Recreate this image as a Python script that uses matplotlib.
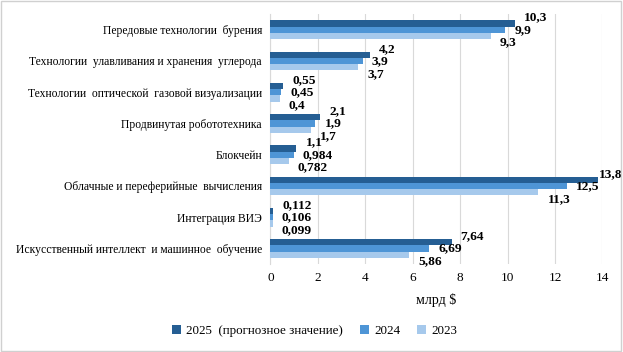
import numpy as np
import matplotlib.pyplot as plt
from matplotlib.patches import Rectangle

plt.rcParams['font.family'] = ['Liberation Serif', 'DejaVu Serif']

categories = [
    'Передовые технологии  бурения',
    'Технологии  улавливания и хранения  углерода',
    'Технологии  оптической  газовой визуализации',
    'Продвинутая робототехника',
    'Блокчейн',
    'Облачные и переферийные  вычисления',
    'Интеграция ВИЭ',
    'Искусственный интеллект  и машинное  обучение',
]
v2025 = [10.3, 4.2, 0.55, 2.1, 1.1, 13.8, 0.112, 7.64]
v2024 = [9.9, 3.9, 0.45, 1.9, 0.984, 12.5, 0.106, 6.69]
v2023 = [9.3, 3.7, 0.4, 1.7, 0.782, 11.3, 0.099, 5.86]
labels_2025 = ['10,3', '4,2', '0,55', '2,1', '1,1', '13,8', '0,112', '7,64']
labels_2024 = ['9,9', '3,9', '0,45', '1,9', '0,984', '12,5', '0,106', '6,69']
labels_2023 = ['9,3', '3,7', '0,4', '1,7', '0,782', '11,3', '0,099', '5,86']
series_names = ['2025  (прогнозное значение)', '2024', '2023']
colors = ['#255E93', '#4E95D6', '#A6C9EC']

fig = plt.figure(figsize=(6.23, 3.52), dpi=100)
ax = fig.add_axes([0.434, 0.25, 0.533, 0.71])

y = np.arange(len(categories))
h = 0.2
series = [(v2025, labels_2025), (v2024, labels_2024), (v2023, labels_2023)]
offsets = [-h, 0, h]
label_dy = [4.2, 0, -4.7]
for (vals, labs), off, dy, col, name in zip(series, offsets, label_dy, colors, series_names):
    ax.barh(y + off, vals, height=h, color=col, label=name, zorder=3)
    for yi, v, lab in zip(y, vals, labs):
        dx = 0.8 if v > 13.5 else 6.5   # keep the last label inside the frame
        ax.annotate(lab, (v, yi + off), xytext=(dx, dy), textcoords='offset points',
                    ha='left', va='center', fontsize=9.6, fontweight='bold',
                    zorder=4, annotation_clip=False)

ax.set_ylim(len(categories) - 0.5, -0.5)
ax.set_xlim(0, 14)
ax.set_xticks(np.arange(0, 15, 2))
ax.set_yticks(y)
ax.set_yticklabels(categories, fontsize=8.4)
ax.tick_params(axis='x', labelsize=9.5, length=0, pad=6)
ax.tick_params(axis='y', length=0, pad=6)
ax.grid(axis='x', color='#d9d9d9', linewidth=0.8, zorder=0)
for s in ['top', 'right', 'bottom']:
    ax.spines[s].set_visible(False)
ax.spines['left'].set_color('#d9d9d9')
ax.set_xlabel('млрд $', fontsize=10, labelpad=6)

fig.legend(loc='lower center', bbox_to_anchor=(0.505, 0.01), ncol=3, frameon=False,
           fontsize=9.4, handlelength=0.7, handleheight=0.7, columnspacing=1.3,
           handletextpad=0.4)

fig.patches.append(Rectangle((0.002, 0.003), 0.995, 0.993, transform=fig.transFigure,
                             fill=False, edgecolor='#d0d0d0', linewidth=1))

plt.savefig('out.png', dpi=100)
